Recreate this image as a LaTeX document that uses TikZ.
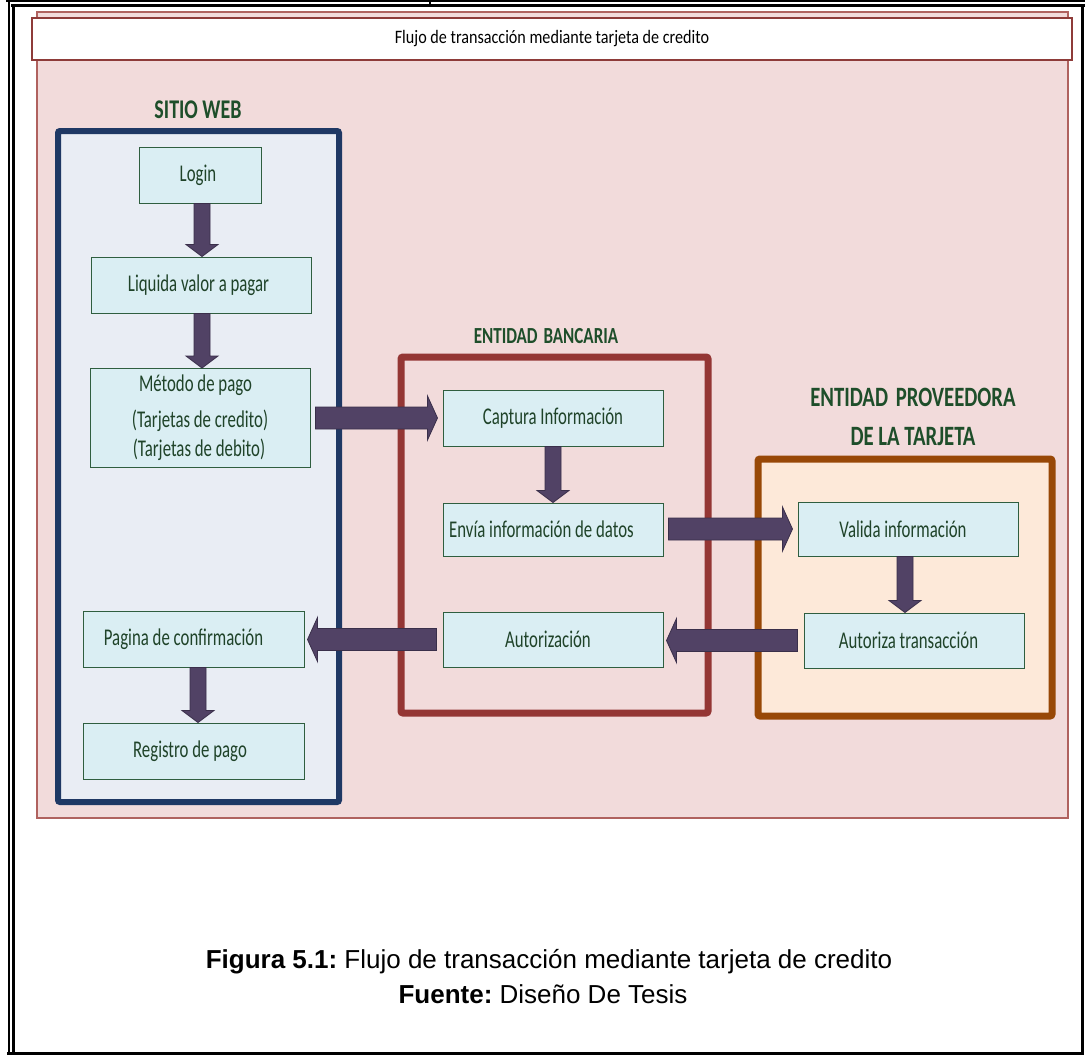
\documentclass[tikz,border=0pt]{standalone}
\usepackage{fontspec}
\usetikzlibrary{calc}
\setmainfont{Liberation Sans}
\newfontfamily\diagfont[FakeStretch=0.70]{Carlito}
\newfontfamily\headfont[FakeStretch=0.74]{Carlito}
\newfontfamily\titlefont[FakeStretch=0.85]{Carlito}
\definecolor{pagebg}{HTML}{F2DBDB}
\definecolor{pageedge}{HTML}{B0625F}
\definecolor{titleedge}{HTML}{8E3B39}
\definecolor{webedge}{HTML}{1F3864}
\definecolor{webfill}{HTML}{E9EDF4}
\definecolor{boxfill}{HTML}{DAEEF3}
\definecolor{boxedge}{HTML}{2F5E3F}
\definecolor{boxtext}{HTML}{1F4329}
\definecolor{headtext}{HTML}{1E4E2A}
\definecolor{bankedge}{HTML}{943634}
\definecolor{provedge}{HTML}{984807}
\definecolor{provfill}{HTML}{FDE9D9}
\definecolor{arrowfill}{HTML}{514265}
\definecolor{arrowedge}{HTML}{3A2F4A}

\tikzset{
  stepbox/.style={draw=boxedge, line width=1pt, fill=boxfill, text=boxtext,
    font=\diagfont\fontsize{24}{28}\selectfont, inner sep=0pt, anchor=center},
  heading/.style={text=headtext, font=\headfont\bfseries, inner sep=0pt, anchor=center},
  blockarrow/.style={fill=arrowfill, draw=arrowedge, line width=0.8pt, line join=miter},
  frameline/.style={draw=black, line cap=rect}
}

% vertical block arrow: from node #1 (south) down to node #2 (north) at x = #3
\newcommand\blockdown[3]{%
  \path[blockarrow] let \p1=(#1.south), \p2=(#2.north), \p3=(#3,0) in
    ({\x3-8pt},{\y1}) -- ({\x3+8pt},{\y1}) -- ({\x3+8pt},{\y2+12pt}) --
    ({\x3+16pt},{\y2+12pt}) -- ({\x3},{\y2}) -- ({\x3-16pt},{\y2+12pt}) --
    ({\x3-8pt},{\y2+12pt}) -- cycle;}
% horizontal block arrow to the right: from node #1 (east) to node #2 (west)
\newcommand\blockright[2]{%
  \path[blockarrow] let \p1=(#1.east), \p2=(#2.west) in
    ({\x1+5pt},{\y2+11pt}) -- ({\x2-15pt},{\y2+11pt}) -- ({\x2-15pt},{\y2+22pt}) --
    ({\x2-5pt},{\y2}) -- ({\x2-15pt},{\y2-22pt}) -- ({\x2-15pt},{\y2-11pt}) --
    ({\x1+5pt},{\y2-11pt}) -- cycle;}
% horizontal block arrow to the left: from node #1 (west) to node #2 (east)
\newcommand\blockleft[2]{%
  \path[blockarrow] let \p1=(#1.west), \p2=(#2.east) in
    ({\x1-6pt},{\y1+11pt}) -- ({\x2+13pt},{\y1+11pt}) -- ({\x2+13pt},{\y1+22pt}) --
    ({\x2+3pt},{\y1}) -- ({\x2+13pt},{\y1-22pt}) -- ({\x2+13pt},{\y1-11pt}) --
    ({\x1-6pt},{\y1-11pt}) -- cycle;}

\begin{document}
\begin{tikzpicture}[x=1pt,y=-1pt]
\useasboundingbox (0,0) rectangle (1085,1055);
\fill[white] (0,0) rectangle (1085,1055);

% page frame (double rule)
\draw[frameline, line width=1.6pt] (7,1) -- (1085,1);
\draw[frameline, line width=1.6pt] (430,0) -- (430,4);
\draw[frameline, line width=3pt] (12,5.5) -- (1083,5.5);
\draw[frameline, line width=2pt] (8.5,1) -- (8.5,1053);
\draw[frameline, line width=2.6pt] (13.5,5.5) -- (13.5,1053);
\draw[frameline, line width=3pt] (1082.5,5.5) -- (1082.5,1053.5);
\draw[frameline, line width=3pt] (8,1053.5) -- (1082.5,1053.5);

% diagram background and title bar
\path[fill=pagebg, draw=pageedge, line width=1.2pt] (37,12) rectangle (1068,818);
\node[draw=titleedge, line width=1.4pt, fill=white, minimum width=1040pt, minimum height=42pt,
  inner sep=0pt, font=\titlefont\fontsize{19}{23}\selectfont, text=black]
  (title) at (552,39) {Flujo de transacción mediante tarjeta de credito};

% swimlane containers
\path[fill=webfill, draw=webedge, line width=6pt, rounded corners=2pt] (58,131) rectangle (339,802);
\path[draw=bankedge, line width=7pt, rounded corners=2pt] (401,357) rectangle (708,713);
\path[fill=provfill, draw=provedge, line width=7pt, rounded corners=2pt] (758,459) rectangle (1052,716);

\node[heading, font=\headfont\bfseries\fontsize{27}{30}\selectfont] (hweb) at (198,110) {SITIO WEB};
\node[heading, font=\headfont\bfseries\fontsize{23}{27}\selectfont] (hbank) at (546,336) {ENTIDAD\hspace{2pt} BANCARIA};
\node[heading, font=\headfont\bfseries\fontsize{28}{32}\selectfont] (hprov1) at (913,397) {ENTIDAD\hspace{3pt} PROVEEDORA};
\node[heading, font=\headfont\bfseries\fontsize{28}{32}\selectfont] (hprov2) at (913,437) {DE LA TARJETA};

% SITIO WEB steps
\node[stepbox, minimum width=122pt, minimum height=56pt] (login) at (200,175) {Login\hspace*{4pt}};
\node[stepbox, minimum width=220pt, minimum height=56pt] (liq) at (201,285) {Liquida valor a pagar\hspace*{5pt}};
\node[stepbox, minimum width=220pt, minimum height=99pt, align=center] (metodo) at (200,418)
  {\hspace*{-1pt}Método de pago\hspace*{8pt}\\[8pt](Tarjetas de credito)\hspace*{8pt}\\[1pt](Tarjetas de debito)\hspace*{2pt}};
\node[stepbox, minimum width=221pt, minimum height=56pt] (pagina) at (193.5,639) {Pagina de confirmación\hspace*{20pt}};
\node[stepbox, minimum width=221pt, minimum height=56pt] (registro) at (193.5,751) {Registro de pago\hspace*{7pt}};

% ENTIDAD BANCARIA steps
\node[stepbox, minimum width=220pt, minimum height=56pt] (captura) at (553,418) {Captura Información};
\node[stepbox, minimum width=220pt, minimum height=53pt] (envia) at (553,529.5) {Envía información de datos\hspace*{23pt}};
\node[stepbox, minimum width=220pt, minimum height=55pt] (autorizacion) at (553,639.5) {Autorización\hspace*{10pt}};

% ENTIDAD PROVEEDORA steps
\node[stepbox, minimum width=220pt, minimum height=54pt] (valida) at (908,529) {Valida información\hspace*{10pt}};
\node[stepbox, minimum width=220pt, minimum height=55pt] (autoriza) at (914,640.5) {Autoriza transacción\hspace*{11pt}};

% flow arrows
\blockdown{login}{liq}{202}
\blockdown{liq}{metodo}{202}
\blockdown{pagina}{registro}{198}
\blockdown{captura}{envia}{553}
\blockdown{valida}{autoriza}{905}
\blockright{metodo}{captura}
\blockright{envia}{valida}
\blockleft{autoriza}{autorizacion}
\blockleft{autorizacion}{pagina}

% caption
\node[font=\fontsize{26}{31}\selectfont, inner sep=0pt] (caption) at (549,962)
  {\textbf{Figura 5.1:}~Flujo de transacción mediante tarjeta de credito};
\node[font=\fontsize{26}{31}\selectfont, inner sep=0pt] (source) at (543,994)
  {\textbf{Fuente:}~Diseño De Tesis};
\end{tikzpicture}
\end{document}
